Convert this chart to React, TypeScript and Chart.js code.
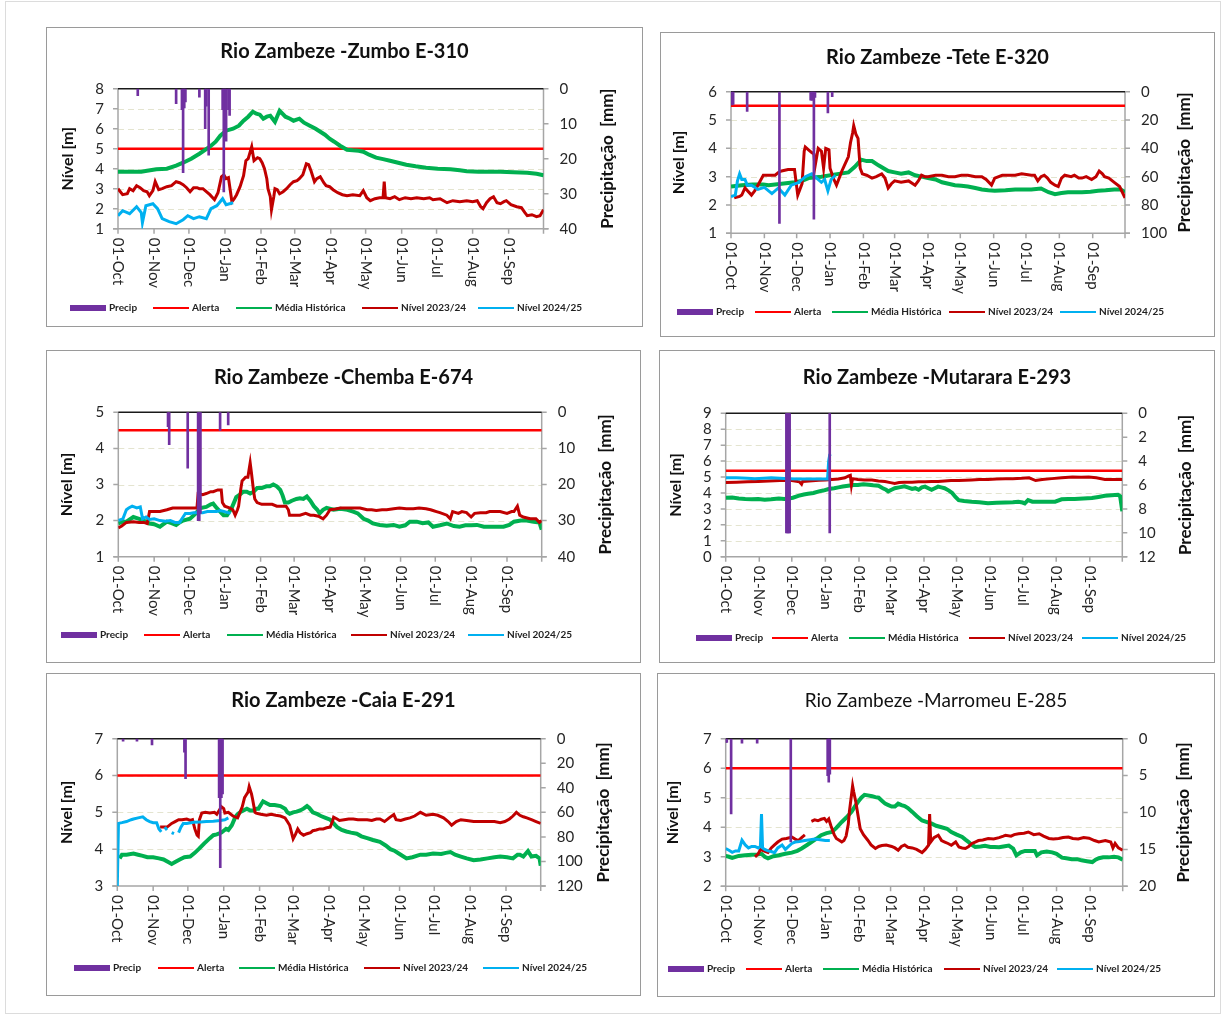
import React, { useEffect, useRef } from 'react';
import { Chart, registerables } from 'chart.js';

Chart.register(...registerables);

// ---------- shared axis categories ----------
const MONTH_DAYS = [0, 31, 61, 92, 123, 152, 183, 213, 244, 274, 305, 336];
const MONTH_LABELS = ['01-Oct', '01-Nov', '01-Dec', '01-Jan', '01-Feb', '01-Mar', '01-Apr', '01-May', '01-Jun', '01-Jul', '01-Aug', '01-Sep'];
const YEAR_DAYS = 366;
const LEGEND_LABELS = ['Precip', 'Alerta', 'Média Histórica', 'Nível 2023/24', 'Nível 2024/25'];

// ---------- data: [day since 01-Oct, value] ----------
// Zumbo E-310
const zumboAlert = 5;
const zumboMedia = [[0,3.85],[8,3.85],[20,3.85],[25,3.9],[33,3.97],[42,4.0],[50,4.15],[56,4.3],[63,4.5],[70,4.75],[79,5.1],[84,5.35],[88,5.65],[93,5.9],[99,6.0],[104,6.15],[108,6.4],[112,6.6],[116,6.85],[119,6.75],[122,6.7],[125,6.5],[128,6.6],[131,6.65],[135,6.35],[139,6.9],[144,6.6],[148,6.5],[151,6.4],[156,6.5],[160,6.3],[165,6.15],[170,6.0],[174,5.85],[178,5.7],[182,5.5],[186,5.35],[191,5.15],[197,4.95],[202,4.92],[207,4.9],[211,4.85],[216,4.7],[222,4.55],[228,4.48],[234,4.4],[241,4.3],[248,4.2],[256,4.12],[265,4.05],[275,4.0],[286,3.97],[294,3.92],[300,3.87],[310,3.85],[320,3.85],[329,3.85],[340,3.82],[352,3.8],[360,3.75],[366,3.67]];
const zumbo2324 = [[0,3.0],[4,2.7],[8,2.75],[10,3.0],[13,2.9],[16,3.15],[19,3.05],[22,2.9],[25,2.85],[27,2.65],[30,2.9],[32,3.35],[35,2.95],[38,3.0],[42,3.1],[46,3.15],[50,3.35],[53,3.3],[56,3.2],[59,3.05],[62,2.85],[65,3.05],[68,3.05],[70,3.0],[73,3.0],[76,2.85],[79,2.7],[83,2.45],[86,2.8],[89,3.6],[91,3.7],[93,3.5],[95,3.55],[98,2.35],[100,2.5],[102,2.7],[105,3.1],[108,3.65],[110,4.4],[112,4.5],[115,5.1],[117,4.4],[120,4.55],[122,4.5],[124,4.3],[126,4.0],[128,3.5],[129,3.0],[131,2.6],[132,1.95],[134,2.6],[135,3.0],[137,2.95],[139,2.75],[142,2.85],[145,3.0],[148,3.2],[151,3.35],[154,3.4],[156,3.5],[159,3.7],[162,4.25],[164,4.2],[166,3.9],[169,3.35],[171,3.5],[174,3.6],[177,3.3],[179,3.15],[182,3.1],[185,2.95],[189,2.8],[193,2.7],[197,2.65],[202,2.7],[208,2.65],[211,2.9],[214,2.55],[217,2.4],[221,2.5],[225,2.55],[228,2.55],[229,3.35],[230,2.55],[234,2.5],[238,2.6],[242,2.45],[247,2.55],[252,2.5],[257,2.55],[263,2.5],[268,2.55],[271,2.45],[277,2.5],[283,2.3],[288,2.4],[294,2.35],[300,2.4],[305,2.35],[309,2.4],[312,2.1],[314,2.0],[317,2.3],[320,2.5],[323,2.6],[326,2.3],[329,2.25],[332,2.35],[334,2.4],[338,2.2],[343,2.1],[347,2.05],[350,1.8],[352,1.65],[356,1.7],[360,1.6],[363,1.65],[366,1.95]];
const zumbo2425 = [[0,1.65],[4,1.9],[10,1.75],[16,2.1],[20,1.8],[21,1.3],[24,2.15],[30,2.25],[34,2.0],[38,1.5],[44,1.35],[50,1.25],[56,1.45],[60,1.65],[65,1.5],[70,1.6],[76,1.5],[80,2.0],[85,2.15],[90,2.5],[93,2.2],[99,2.3]];
const zumboPrecip = [[17,2],[50,4.3],[55,6],[56,24],[57,5.5],[58,3.8],[70,2.4],[75,11.4],[76,5],[78,19],[90,6],[91,29.5],[92,8],[93,15],[95,6],[96,7.6]];

// Tete E-320
const teteAlert = 5.5;
const teteMedia = [[0,2.65],[10,2.7],[20,2.72],[30,2.72],[35,2.7],[47,2.75],[59,2.8],[66,2.85],[72,2.95],[84,3.0],[97,3.08],[109,3.15],[115,3.35],[121,3.6],[126,3.55],[131,3.55],[137,3.4],[146,3.2],[152,3.15],[158,3.1],[165,3.15],[171,3.05],[177,3.0],[183,2.95],[190,2.9],[196,2.8],[202,2.75],[208,2.7],[214,2.68],[220,2.65],[227,2.6],[233,2.55],[239,2.52],[245,2.5],[255,2.52],[264,2.55],[272,2.55],[279,2.55],[288,2.58],[295,2.45],[301,2.38],[307,2.42],[313,2.45],[320,2.45],[326,2.45],[334,2.47],[341,2.5],[348,2.52],[356,2.55],[362,2.55],[366,2.45]];
const tete2324 = [[3,2.25],[8,2.3],[10,2.35],[13,2.6],[19,2.35],[22,2.5],[25,2.7],[30,3.05],[35,3.05],[41,3.05],[44,3.15],[47,3.2],[53,3.25],[59,3.25],[62,2.35],[64,2.55],[66,2.75],[68,3.9],[69,4.05],[72,3.95],[75,3.85],[77,3.8],[78,3.35],[81,4.0],[84,3.9],[86,3.3],[88,4.0],[91,3.95],[92,3.3],[95,2.95],[98,2.7],[101,3.0],[103,3.2],[106,3.45],[109,3.7],[111,4.2],[113,4.55],[114,4.8],[116,4.5],[118,4.35],[120,3.3],[122,3.1],[126,3.05],[131,2.95],[135,3.0],[140,3.1],[143,2.95],[146,2.6],[149,2.75],[152,2.85],[158,2.8],[165,2.85],[171,2.7],[174,2.85],[177,3.05],[180,3.0],[183,3.0],[190,3.05],[196,3.05],[202,3.0],[208,3.0],[214,3.05],[220,3.05],[227,3.0],[233,3.0],[237,2.9],[242,2.7],[245,2.95],[252,3.05],[258,3.05],[264,3.05],[270,3.1],[279,3.05],[282,3.05],[285,2.85],[288,3.0],[291,3.05],[294,2.95],[297,2.8],[301,2.7],[304,2.65],[307,2.95],[310,3.05],[316,3.0],[319,3.05],[323,2.95],[326,2.95],[330,3.0],[335,2.9],[339,3.0],[342,3.2],[345,3.1],[347,3.0],[351,2.95],[356,2.8],[361,2.65],[366,2.25]];
const tete2425 = [[0,2.3],[4,2.35],[6,2.85],[8,3.1],[10,2.9],[13,2.9],[15,2.7],[19,2.7],[25,2.55],[31,2.62],[38,2.4],[44,2.6],[50,2.35],[56,2.7],[63,2.8],[69,3.0],[75,3.1],[78,3.0],[84,2.8],[87,2.9],[90,2.5],[93,2.9],[97,3.05]];
const tetePrecip = [[1,9.4],[2,9],[15,14],[45,93],[74,6],[75,6],[76,6],[77,90],[78,4],[90,15],[94,3.5]];

// Chemba E-674
const chembaAlert = 4.5;
const chembaMedia = [[0,1.92],[4,1.97],[7,1.97],[13,2.1],[18,2.05],[22,2.0],[27,1.92],[31,1.9],[36,1.83],[42,1.97],[46,1.93],[50,1.88],[53,1.95],[56,2.0],[62,2.05],[67,2.2],[71,2.35],[76,2.38],[80,2.45],[82,2.47],[85,2.35],[88,2.25],[91,2.15],[94,2.15],[98,2.35],[102,2.65],[105,2.72],[108,2.8],[111,2.8],[114,2.75],[117,2.8],[120,2.9],[124,2.9],[128,2.95],[131,2.95],[134,3.0],[137,2.95],[140,2.85],[142,2.7],[144,2.5],[147,2.5],[150,2.55],[154,2.6],[157,2.62],[160,2.6],[163,2.67],[166,2.55],[169,2.4],[172,2.3],[174,2.2],[177,2.3],[180,2.35],[186,2.3],[192,2.33],[198,2.3],[203,2.25],[207,2.2],[212,2.05],[216,2.0],[220,1.92],[226,1.88],[232,1.86],[238,1.88],[243,1.83],[248,1.87],[252,1.97],[258,1.97],[263,1.93],[268,1.95],[272,1.83],[278,1.87],[284,1.92],[290,1.85],[295,1.83],[300,1.87],[305,1.87],[310,1.88],[316,1.83],[321,1.83],[326,1.83],[333,1.83],[338,1.88],[342,1.97],[348,2.0],[353,2.0],[359,1.97],[364,1.95],[366,1.75]];
const chemba2324 = [[0,1.8],[3,1.85],[7,1.95],[13,1.97],[18,1.95],[22,1.95],[25,1.92],[27,2.25],[31,2.25],[36,2.25],[42,2.3],[47,2.35],[50,2.35],[54,2.35],[59,2.35],[64,2.35],[68,2.35],[69,2.75],[73,2.72],[76,2.75],[80,2.8],[82,2.8],[86,2.85],[89,2.85],[90,2.5],[92,2.4],[96,2.35],[99,2.3],[101,2.15],[103,2.3],[104,2.4],[106,2.9],[107,3.1],[110,3.2],[112,3.2],[113,3.4],[114,3.6],[115,3.35],[117,2.8],[118,2.6],[120,2.5],[124,2.45],[128,2.45],[133,2.45],[137,2.4],[141,2.4],[145,2.4],[147,2.3],[148,2.15],[152,2.15],[157,2.15],[162,2.2],[166,2.15],[169,2.15],[173,2.12],[177,2.05],[180,2.15],[183,2.3],[188,2.32],[192,2.35],[198,2.35],[203,2.35],[209,2.35],[215,2.3],[219,2.3],[223,2.28],[228,2.3],[232,2.3],[238,2.33],[243,2.35],[249,2.33],[255,2.33],[260,2.35],[266,2.33],[270,2.3],[272,2.28],[275,2.25],[278,2.22],[284,2.15],[287,2.05],[289,2.25],[294,2.2],[297,2.25],[301,2.22],[305,2.1],[308,2.2],[313,2.22],[318,2.22],[321,2.25],[326,2.25],[330,2.25],[336,2.2],[340,2.25],[342,2.25],[345,2.4],[347,2.15],[350,2.1],[356,2.05],[361,2.05],[364,1.95],[366,2.0]];
const chemba2425 = [[0,2.0],[4,2.05],[7,2.3],[9,2.35],[12,2.4],[16,2.35],[19,2.38],[21,2.05],[24,2.1],[27,2.03],[31,2.05],[36,2.0],[41,1.98],[45,2.0],[49,1.95],[53,1.95],[56,2.1],[58,2.2],[62,2.2],[65,2.22],[69,2.22],[73,2.22],[77,2.25],[82,2.25],[85,2.25],[88,2.28],[92,2.25],[97,2.2]];
const chembaPrecip = [[43,4],[44,9],[60,15.5],[69,30],[70,30],[71,28],[88,5],[95,3.5]];

// Mutarara E-293
const mutararaAlert = 5.4;
const mutararaMedia = [[0,3.7],[6,3.72],[12,3.65],[18,3.62],[24,3.6],[30,3.62],[36,3.58],[42,3.6],[49,3.65],[54,3.62],[58,3.65],[62,3.7],[67,3.82],[72,3.9],[76,3.95],[81,4.0],[86,4.1],[90,4.15],[95,4.25],[100,4.3],[104,4.35],[108,4.4],[113,4.45],[118,4.5],[122,4.5],[127,4.55],[132,4.52],[136,4.48],[141,4.45],[145,4.3],[148,4.2],[150,4.1],[153,4.2],[156,4.3],[160,4.35],[165,4.42],[168,4.35],[172,4.25],[175,4.3],[178,4.2],[181,4.35],[184,4.4],[187,4.3],[190,4.2],[193,4.3],[196,4.4],[199,4.35],[202,4.3],[206,4.15],[209,4.0],[212,3.75],[215,3.55],[220,3.5],[227,3.45],[234,3.42],[242,3.35],[250,3.38],[258,3.4],[265,3.42],[270,3.45],[274,3.4],[276,3.35],[279,3.55],[283,3.45],[289,3.45],[296,3.45],[304,3.45],[310,3.6],[316,3.62],[322,3.62],[330,3.65],[338,3.68],[344,3.75],[350,3.82],[356,3.85],[362,3.88],[364,3.8],[366,2.85]];
const mutarara2324 = [[0,4.65],[10,4.68],[20,4.7],[30,4.72],[40,4.75],[50,4.78],[61,4.78],[68,4.7],[70,4.55],[71,4.72],[80,4.77],[86,4.8],[92,4.82],[98,4.85],[104,4.88],[110,4.95],[113,5.05],[115,5.1],[116,4.5],[117,4.9],[122,4.85],[128,4.82],[135,4.82],[141,4.75],[147,4.72],[152,4.65],[156,4.6],[160,4.65],[165,4.68],[172,4.68],[178,4.7],[184,4.7],[190,4.72],[196,4.72],[202,4.75],[208,4.78],[215,4.78],[221,4.8],[227,4.82],[234,4.85],[242,4.85],[250,4.88],[258,4.9],[265,4.9],[273,4.92],[280,4.95],[286,4.78],[292,4.85],[301,4.9],[310,4.95],[320,5.0],[328,4.98],[335,5.0],[342,4.95],[350,4.85],[358,4.85],[366,4.85]];
const mutarara2425 = [[0,4.95],[10,4.95],[20,4.92],[27,4.9],[35,4.93],[42,4.95],[50,4.92],[58,4.9],[66,4.88],[73,4.88],[80,4.88],[86,4.88],[94,4.88],[95,6.0],[96,6.4],[97,6.45]];
const mutararaPrecip = [[56,10],[57,10],[58,10],[59,10],[96,10]];

// Caia E-291
const caiaAlert = 6;
const caiaMedia = [[2,3.75],[4,3.85],[8,3.85],[14,3.88],[18,3.85],[22,3.82],[26,3.78],[31,3.78],[36,3.75],[40,3.72],[44,3.65],[47,3.6],[50,3.65],[54,3.72],[58,3.78],[63,3.8],[67,3.9],[71,4.02],[75,4.15],[80,4.3],[83,4.38],[86,4.4],[90,4.45],[92,4.5],[94,4.55],[96,4.52],[99,4.65],[102,4.87],[104,4.95],[106,5.0],[109,5.05],[112,5.1],[115,5.05],[118,5.05],[120,5.1],[122,5.1],[124,5.2],[126,5.3],[129,5.25],[132,5.2],[136,5.2],[141,5.17],[145,5.1],[147,5.0],[149,4.96],[152,5.0],[155,5.02],[158,5.05],[161,5.1],[164,5.17],[166,5.12],[169,5.0],[173,4.95],[176,4.9],[180,4.85],[184,4.8],[187,4.7],[190,4.6],[194,4.52],[198,4.48],[202,4.45],[207,4.42],[211,4.35],[216,4.3],[221,4.25],[227,4.2],[232,4.1],[236,4.0],[240,3.95],[245,3.85],[250,3.75],[255,3.78],[262,3.85],[267,3.85],[273,3.88],[280,3.87],[284,3.9],[288,3.92],[292,3.85],[297,3.8],[302,3.75],[308,3.7],[314,3.72],[320,3.75],[326,3.78],[331,3.8],[337,3.78],[342,3.75],[346,3.85],[348,3.85],[351,3.8],[355,3.95],[358,3.8],[362,3.82],[365,3.75],[366,3.55]];
const caia2324 = [[37,4.6],[43,4.6],[47,4.7],[50,4.75],[53,4.8],[56,4.8],[60,4.82],[63,4.78],[65,4.8],[67,4.55],[69,4.38],[70,4.35],[71,4.8],[73,4.98],[76,5.0],[80,4.98],[84,5.0],[86,4.95],[88,5.05],[90,5.15],[92,5.1],[93,4.98],[96,5.0],[100,4.9],[104,4.85],[106,5.0],[108,5.15],[110,5.4],[111,5.45],[113,5.55],[114,5.7],[116,5.5],[117,5.35],[119,5.0],[120,4.98],[124,4.95],[129,4.92],[133,4.95],[137,4.92],[141,4.9],[145,4.85],[147,4.75],[149,4.65],[151,4.4],[152,4.28],[154,4.4],[156,4.55],[158,4.45],[161,4.38],[164,4.42],[167,4.45],[169,4.5],[172,4.52],[175,4.55],[178,4.55],[181,4.58],[184,4.6],[186,4.75],[187,4.87],[190,4.82],[192,4.78],[196,4.8],[200,4.82],[204,4.82],[208,4.8],[212,4.8],[216,4.8],[220,4.78],[224,4.82],[227,4.82],[231,4.75],[235,4.85],[239,4.94],[241,4.8],[245,4.78],[249,4.82],[253,4.85],[257,4.9],[262,5.0],[267,4.92],[273,4.95],[277,4.92],[282,4.85],[286,4.75],[289,4.65],[293,4.75],[297,4.8],[302,4.78],[308,4.75],[314,4.75],[320,4.75],[326,4.75],[331,4.72],[335,4.75],[339,4.82],[342,4.9],[345,5.0],[348,4.92],[351,4.88],[354,4.85],[358,4.8],[362,4.75],[366,4.7]];
const caia2425 = [[0,3.0],[1,4.7],[4,4.72],[8,4.75],[12,4.8],[14,4.82],[18,4.85],[22,4.88],[25,4.8],[28,4.75],[31,4.72],[34,4.72],[36,4.55],[38,4.47],[39,null],[41,4.6],[43,4.52],[45,null],[47,4.45],[49,4.42],[51,null],[53,4.45],[55,4.6],[57,4.7],[60,4.7],[66,4.73],[72,4.74],[77,4.75],[83,4.76],[89,4.78],[93,4.8],[96,4.85]];
const caiaPrecip = [[5,2],[17,2],[30,5],[58,11],[59,32.6],[88,48],[89,105],[90,48],[91,45]];

// Marromeu E-285
const marromeuAlert = 6;
const marromeuMedia = [[0,3.03],[3,3.0],[6,2.96],[12,3.03],[18,3.05],[24,3.07],[29,3.08],[33,3.1],[36,3.0],[39,2.95],[44,3.02],[49,3.05],[55,3.1],[61,3.14],[66,3.2],[70,3.28],[75,3.4],[79,3.5],[84,3.62],[88,3.73],[93,3.8],[98,3.84],[102,3.98],[107,4.18],[111,4.32],[116,4.52],[119,4.7],[122,4.86],[125,5.0],[128,5.1],[131,5.08],[135,5.05],[138,5.02],[141,5.0],[144,4.9],[147,4.8],[150,4.75],[153,4.7],[156,4.7],[159,4.8],[162,4.75],[165,4.72],[168,4.65],[172,4.52],[176,4.38],[181,4.23],[185,4.18],[190,4.12],[194,4.05],[199,4.0],[204,3.95],[208,3.84],[213,3.75],[218,3.67],[221,3.58],[224,3.5],[227,3.4],[230,3.33],[235,3.35],[239,3.37],[244,3.33],[248,3.33],[252,3.32],[256,3.35],[261,3.38],[265,3.28],[268,3.05],[272,3.15],[276,3.2],[280,3.2],[285,3.2],[287,3.05],[291,3.15],[296,3.18],[301,3.15],[305,3.1],[310,2.97],[314,2.95],[319,2.92],[324,2.92],[328,2.88],[333,2.85],[338,2.82],[341,2.9],[344,2.95],[348,2.98],[353,2.98],[358,3.0],[362,2.98],[366,2.9]];
const marromeu2324 = [[27,3.0],[30,3.1],[32,3.25],[35,3.2],[39,3.15],[42,3.3],[45,3.4],[48,3.5],[52,3.6],[56,3.62],[61,3.67],[64,3.6],[67,3.55],[70,3.65],[73,3.74],[76,null],[79,4.2],[82,4.25],[85,4.22],[88,4.27],[91,4.3],[93,4.2],[95,4.28],[97,4.05],[98,3.95],[100,3.75],[102,3.62],[105,3.55],[107,3.5],[109,3.55],[111,3.7],[113,4.1],[114,4.52],[116,5.1],[117,5.4],[118,5.2],[120,4.85],[122,4.4],[124,3.95],[127,3.75],[131,3.56],[134,3.4],[138,3.28],[141,3.35],[144,3.38],[148,3.4],[153,3.35],[156,3.3],[159,3.22],[162,3.35],[165,3.4],[168,3.32],[172,3.3],[176,3.25],[181,3.14],[184,3.25],[187,3.39],[188,4.45],[189,3.5],[192,3.65],[196,3.73],[199,3.55],[202,3.5],[205,3.45],[208,3.39],[212,3.5],[215,3.33],[218,3.3],[221,3.28],[224,3.35],[227,3.45],[230,3.5],[233,3.55],[237,3.57],[242,3.62],[247,3.6],[252,3.65],[256,3.7],[258,3.73],[263,3.7],[266,3.75],[270,3.78],[275,3.8],[279,3.84],[284,3.75],[289,3.78],[293,3.7],[298,3.62],[302,3.6],[307,3.62],[311,3.65],[316,3.67],[320,3.62],[325,3.6],[330,3.65],[335,3.63],[340,3.55],[344,3.5],[350,3.55],[355,3.5],[357,3.3],[359,3.45],[362,3.3],[366,3.22]];
const marromeu2425 = [[0,3.28],[3,3.22],[6,3.15],[9,3.2],[12,3.2],[15,3.56],[18,3.4],[21,3.3],[24,3.35],[27,3.35],[30,3.3],[32,3.35],[33,4.45],[34,3.3],[36,3.25],[39,3.2],[42,3.18],[45,3.14],[48,3.3],[52,3.4],[55,3.25],[58,3.35],[61,3.45],[64,3.5],[68,3.52],[73,3.55],[78,3.58],[82,3.6],[87,3.58],[92,3.55],[96,3.55]];
const marromeuPrecip = [[0,0.5],[1,0.5],[5,10.2],[15,0.6],[29,0.6],[60,14],[94,5.0],[95,5.9],[96,4.8]];

// ---------- styling ----------
const C_PRECIP = '#7030A0';
const C_ALERT = '#FF0000';
const C_MEDIA = '#00B050';
const C_2324 = '#C00000';
const C_2425 = '#00B0F0';
const FONT = "Lato, 'Open Sans', sans-serif";
const TEXT = '#262626';

type Cfg = {
  title: string;
  titleBold: boolean;
  panel: [number, number, number, number];
  plot: [number, number, number, number];
  titleY: number;
  yMin: number; yMax: number; yStep: number;
  pMax: number; pStep: number;
  alert: number;
  media: any[]; n2324: any[]; n2425: any[]; precip: any[];
  leftTitleX: number; rightTitleX: number;
  legendXs: number[]; legendY: number;
};

const PANELS: Cfg[] = [
  { title: 'Rio Zambeze -Zumbo E-310', titleBold: true, panel: [46, 27, 597, 300], plot: [118, 88.7, 543.5, 228.7], titleY: 52,
    yMin: 1, yMax: 8, yStep: 1, pMax: 40, pStep: 10, alert: zumboAlert,
    media: zumboMedia, n2324: zumbo2324, n2425: zumbo2425, precip: zumboPrecip,
    leftTitleX: 68, rightTitleX: 608, legendXs: [70, 153, 236, 362, 478], legendY: 308 },
  { title: 'Rio Zambeze -Tete E-320', titleBold: true, panel: [660, 32, 555, 305], plot: [731, 91.7, 1125, 233.3], titleY: 58,
    yMin: 1, yMax: 6, yStep: 1, pMax: 100, pStep: 20, alert: teteAlert,
    media: teteMedia, n2324: tete2324, n2425: tete2425, precip: tetePrecip,
    leftTitleX: 679, rightTitleX: 1185, legendXs: [677, 755, 832, 949, 1060], legendY: 312 },
  { title: 'Rio Zambeze -Chemba E-674', titleBold: true, panel: [46, 350, 595, 313], plot: [118.3, 412.3, 541.7, 556.7], titleY: 378,
    yMin: 1, yMax: 5, yStep: 1, pMax: 40, pStep: 10, alert: chembaAlert,
    media: chembaMedia, n2324: chemba2324, n2425: chemba2425, precip: chembaPrecip,
    leftTitleX: 67, rightTitleX: 606, legendXs: [61, 144, 227, 351, 468], legendY: 635 },
  { title: 'Rio Zambeze -Mutarara E-293', titleBold: true, panel: [659, 350, 556, 313], plot: [725.7, 413.3, 1122.3, 556.7], titleY: 378,
    yMin: 0, yMax: 9, yStep: 1, pMax: 12, pStep: 2, alert: mutararaAlert,
    media: mutararaMedia, n2324: mutarara2324, n2425: mutarara2425, precip: mutararaPrecip,
    leftTitleX: 676, rightTitleX: 1186, legendXs: [696, 772, 849, 969, 1082], legendY: 638 },
  { title: 'Rio Zambeze -Caia E-291', titleBold: true, panel: [46, 673, 595, 323], plot: [117.3, 738.7, 540.7, 886], titleY: 701,
    yMin: 3, yMax: 7, yStep: 1, pMax: 120, pStep: 20, alert: caiaAlert,
    media: caiaMedia, n2324: caia2324, n2425: caia2425, precip: caiaPrecip,
    leftTitleX: 67, rightTitleX: 604, legendXs: [74, 158, 239, 364, 483], legendY: 968 },
  { title: 'Rio Zambeze -Marromeu E-285', titleBold: false, panel: [657, 673, 558, 324], plot: [725.7, 738.7, 1122.7, 886.3], titleY: 701,
    yMin: 2, yMax: 7, yStep: 1, pMax: 20, pStep: 5, alert: marromeuAlert,
    media: marromeuMedia, n2324: marromeu2324, n2425: marromeu2425, precip: marromeuPrecip,
    leftTitleX: 673, rightTitleX: 1184, legendXs: [668, 746, 823, 944, 1057], legendY: 969 },
];

const toPts = (arr: any[]) => arr.map((p) => ({ x: p[0], y: p[1] }));

function Panel({ cfg }: { cfg: Cfg }) {
  const ref = useRef<HTMLCanvasElement>(null);
  const [ox, oy, W, H] = cfg.panel;

  useEffect(() => {
    const canvas = ref.current;
    if (!canvas) return;
    const [pl, pt, pr, pb] = cfg.plot;
    const leftW = pl - ox;
    const rightW = W - (pr - ox);

    const decor = {
      id: 'decor',
      beforeDatasetsDraw(chart: any) {
        const { ctx, chartArea } = chart;
        const { left, right, top, bottom } = chartArea;
        const ys = chart.scales.y;
        const y2 = chart.scales.y2;
        const xs = chart.scales.x;
        ctx.save();
        // dashed grid lines
        ctx.strokeStyle = '#e4e4cf';
        ctx.lineWidth = 1;
        ctx.setLineDash([6, 4]);
        ys.ticks.forEach((t: any) => {
          const py = Math.round(ys.getPixelForValue(t.value)) + 0.5;
          if (py > top + 2 && py < bottom - 2) {
            ctx.beginPath(); ctx.moveTo(left, py); ctx.lineTo(right, py); ctx.stroke();
          }
        });
        ctx.setLineDash([]);
        // axis lines
        ctx.strokeStyle = '#a6a6a6';
        ctx.lineWidth = 1.5;
        ctx.beginPath();
        ctx.moveTo(left, top); ctx.lineTo(left, bottom);
        ctx.moveTo(right, top); ctx.lineTo(right, bottom);
        ctx.moveTo(left - 5, bottom); ctx.lineTo(right + 5, bottom);
        ctx.stroke();
        // tick marks
        ctx.beginPath();
        ys.ticks.forEach((t: any) => {
          const py = ys.getPixelForValue(t.value);
          ctx.moveTo(left - 5, py); ctx.lineTo(left, py);
        });
        y2.ticks.forEach((t: any) => {
          const py = y2.getPixelForValue(t.value);
          ctx.moveTo(right, py); ctx.lineTo(right + 5, py);
        });
        MONTH_DAYS.concat([YEAR_DAYS]).forEach((d) => {
          const px = xs.getPixelForValue(d);
          ctx.moveTo(px, bottom); ctx.lineTo(px, bottom + 5);
        });
        ctx.stroke();
        // top (zero precipitation) line
        ctx.strokeStyle = '#1a1a1a';
        ctx.lineWidth = 1.5;
        ctx.beginPath(); ctx.moveTo(left, top); ctx.lineTo(right, top); ctx.stroke();
        ctx.restore();
      },
      afterDraw(chart: any) {
        const { ctx, chartArea } = chart;
        const { top, bottom } = chartArea;
        const xs = chart.scales.x;
        ctx.save();
        // title
        ctx.font = cfg.titleBold ? `bold 20px ${FONT}` : `19px ${FONT}`;
        ctx.textAlign = 'center';
        ctx.textBaseline = 'middle';
        ctx.fillStyle = '#111';
        ctx.fillText(cfg.title, W / 2, cfg.titleY - oy);
        // x labels, rotated clockwise
        ctx.fillStyle = TEXT;
        ctx.font = `15px ${FONT}`;
        MONTH_DAYS.forEach((d, i) => {
          const px = xs.getPixelForValue(d);
          ctx.save();
          ctx.translate(px, bottom + 9);
          ctx.rotate(Math.PI / 2);
          ctx.textAlign = 'left';
          ctx.textBaseline = 'middle';
          ctx.fillText(MONTH_LABELS[i], 0, 0);
          ctx.restore();
        });
        // axis titles
        const midY = (top + bottom) / 2;
        ctx.fillStyle = '#111';
        ctx.save();
        ctx.font = `bold 16px ${FONT}`;
        ctx.translate(cfg.leftTitleX - ox, midY);
        ctx.rotate(-Math.PI / 2);
        ctx.textAlign = 'center'; ctx.textBaseline = 'middle';
        ctx.fillText('Nível [m]', 0, 0);
        ctx.restore();
        ctx.save();
        ctx.font = `bold 17px ${FONT}`;
        ctx.translate(cfg.rightTitleX - ox, midY);
        ctx.rotate(-Math.PI / 2);
        ctx.textAlign = 'center'; ctx.textBaseline = 'middle';
        ctx.fillText('Precipitação  [mm]', 0, 0);
        ctx.restore();
        // legend
        const colors = [C_PRECIP, C_ALERT, C_MEDIA, C_2324, C_2425];
        ctx.font = `bold 10px ${FONT}`;
        ctx.textAlign = 'left';
        ctx.textBaseline = 'middle';
        const ly = cfg.legendY - oy;
        LEGEND_LABELS.forEach((lab, i) => {
          const lx = cfg.legendXs[i] - ox;
          ctx.fillStyle = colors[i];
          if (i === 0) ctx.fillRect(lx, ly - 3, 36, 6);
          else ctx.fillRect(lx, ly - 1, 36, 2);
          ctx.fillStyle = '#222';
          ctx.fillText(lab, lx + 39, ly);
        });
        ctx.restore();
      },
    };

    const tickFont = { family: FONT, size: 15, lineHeight: 1 };
    const chart = new Chart(canvas, {
      type: 'line',
      data: {
        datasets: [
          { type: 'bar', label: LEGEND_LABELS[0], data: toPts(cfg.precip), yAxisID: 'y2', xAxisID: 'x',
            backgroundColor: C_PRECIP, borderWidth: 0, barThickness: 2, order: 0 } as any,
          { type: 'line', label: LEGEND_LABELS[4], data: toPts(cfg.n2425), yAxisID: 'y', borderColor: C_2425,
            borderWidth: 3, pointRadius: 0, tension: 0, spanGaps: false, order: 1 },
          { type: 'line', label: LEGEND_LABELS[3], data: toPts(cfg.n2324), yAxisID: 'y', borderColor: C_2324,
            borderWidth: 3, pointRadius: 0, tension: 0, spanGaps: false, order: 2 },
          { type: 'line', label: LEGEND_LABELS[2], data: toPts(cfg.media), yAxisID: 'y', borderColor: C_MEDIA,
            borderWidth: 4, pointRadius: 0, tension: 0, order: 3 },
          { type: 'line', label: LEGEND_LABELS[1], data: toPts([[0, cfg.alert], [YEAR_DAYS, cfg.alert]]), yAxisID: 'y',
            borderColor: C_ALERT, borderWidth: 2.5, pointRadius: 0, order: 4 },
        ],
      },
      options: {
        responsive: false,
        animation: false,
        events: [],
        layout: { padding: { left: 0, top: pt - oy, right: 0, bottom: H - (pb - oy) } },
        plugins: { legend: { display: false }, title: { display: false }, tooltip: { enabled: false } },
        scales: {
          x: { type: 'linear', min: 0, max: YEAR_DAYS, offset: false, grid: { display: false, drawTicks: false }, border: { display: false },
            ticks: { display: false }, afterFit: (s: any) => { s.height = 0; } },
          y: { type: 'linear', position: 'left', min: cfg.yMin, max: cfg.yMax, grid: { display: false, drawTicks: false }, border: { display: false },
            ticks: { stepSize: cfg.yStep, padding: 14, font: tickFont, color: TEXT, autoSkip: false, maxTicksLimit: 100 },
            afterFit: (s: any) => { s.width = leftW; } },
          y2: { type: 'linear', position: 'right', reverse: true, min: 0, max: cfg.pMax, grid: { display: false, drawTicks: false }, border: { display: false },
            ticks: { stepSize: cfg.pStep, padding: 16, font: tickFont, color: TEXT, autoSkip: false, maxTicksLimit: 100 },
            afterFit: (s: any) => { s.width = rightW; } },
        },
      } as any,
      plugins: [decor],
    });
    return () => chart.destroy();
  }, [cfg]);

  return (
    <>
      <canvas ref={ref} width={W} height={H} style={{ position: 'absolute', left: ox, top: oy, width: W, height: H }} />
      <div style={{ position: 'absolute', left: ox, top: oy, width: W, height: H, boxSizing: 'border-box', border: '1px solid #9a9a9a', pointerEvents: 'none' }} />
    </>
  );
}

export default function App() {
  useEffect(() => {
    document.body.style.margin = '0';
    document.body.style.background = '#fff';
  }, []);
  return (
    <div style={{ position: 'relative', width: 1225, height: 1016, background: '#fff', overflow: 'hidden' }}>
      <div style={{ position: 'absolute', left: 5, top: 1, width: 1216, height: 1013, boxSizing: 'border-box', border: '1px solid #dcdcdc' }} />
      {PANELS.map((p) => <Panel key={p.title} cfg={p} />)}
    </div>
  );
}
